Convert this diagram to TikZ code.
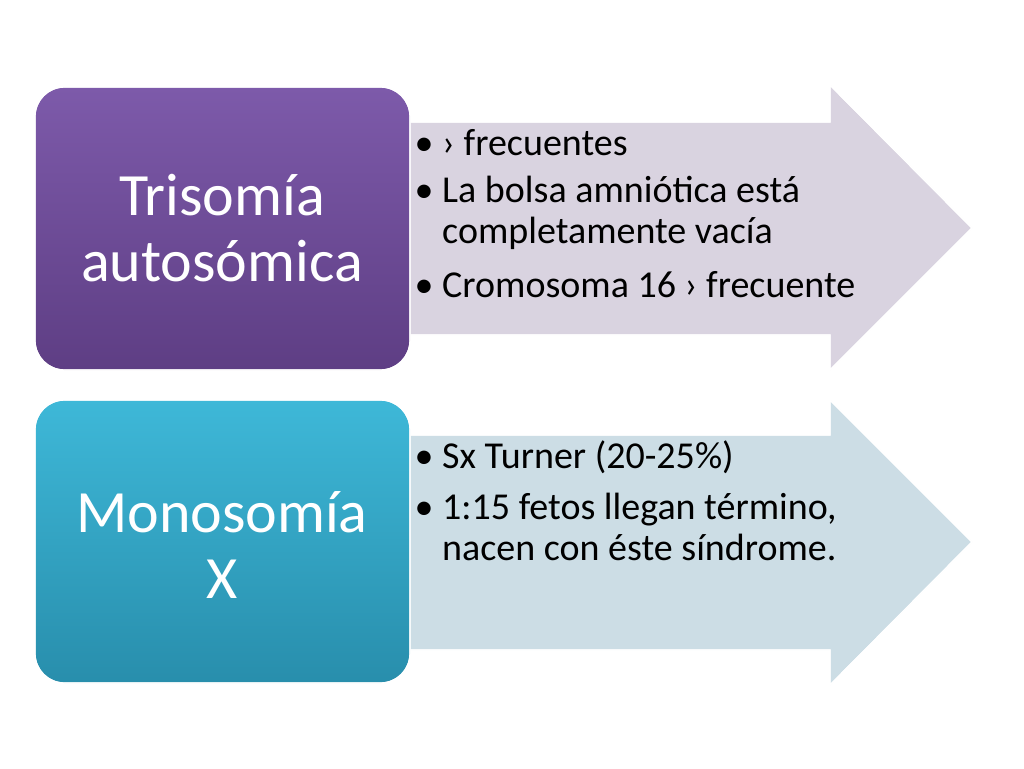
\documentclass[tikz,border=0pt]{standalone}
\usepackage{fontspec}
\setmainfont{Carlito}
\begin{document}
\begin{tikzpicture}[x=0.75pt,y=-0.75pt]
\useasboundingbox (0,0) rectangle (1024,768);
\tikzset{arr/.style={draw=white,line width=1pt},
 box/.style={rounded corners=22pt,draw=white,line width=1pt},
 ttl/.style={text=white,font=\fontsize{45}{50}\selectfont,align=center},
 txt/.style={anchor=west,font=\fontsize{28.5}{31}\selectfont,align=left}}
\fill[arr,fill={rgb,255:red,217;green,211;blue,224}] (380,122) -- (830,122) -- (830,85) -- (972,228) -- (830,370) -- (830,335) -- (380,335) -- cycle;
\fill[arr,fill={rgb,255:red,204;green,221;blue,229}] (380,435) -- (830,435) -- (830,400) -- (972,542) -- (830,685) -- (830,650) -- (380,650) -- cycle;
\draw[arr] (380,122) -- (830,122) -- (830,85) -- (972,228) -- (830,370) -- (830,335) -- (380,335);
\draw[arr] (380,435) -- (830,435) -- (830,400) -- (972,542) -- (830,685) -- (830,650) -- (380,650);
\shade[box,top color={rgb,255:red,125;green,90;blue,170},bottom color={rgb,255:red,94;green,62;blue,132}] (35,87) rectangle (410,370);
\draw[box] (35,87) rectangle (410,370);
\shade[box,top color={rgb,255:red,62;green,184;blue,216},bottom color={rgb,255:red,40;green,142;blue,172}] (35,400) rectangle (410,683);
\draw[box] (35,400) rectangle (410,683);
\node[ttl] (t1) at (222,228) {Trisomía\\autosómica};
\node[ttl] (t2) at (222,545) {Monosomía\\X};
\node[txt] (a) at (410,143) {• › frecuentes};
\node[txt] (b) at (410,213) {• La bolsa amniótica está\\\phantom{• }completamente vacía};
\node[txt] (c) at (410,285) {• Cromosoma 16 › frecuente};
\node[txt] (d) at (410,457) {• Sx Turner (20-25\%)};
\node[txt] (e) at (410,527) {• 1:15 fetos llegan término,\\\phantom{• }nacen con éste síndrome.};
\end{tikzpicture}
\end{document}
